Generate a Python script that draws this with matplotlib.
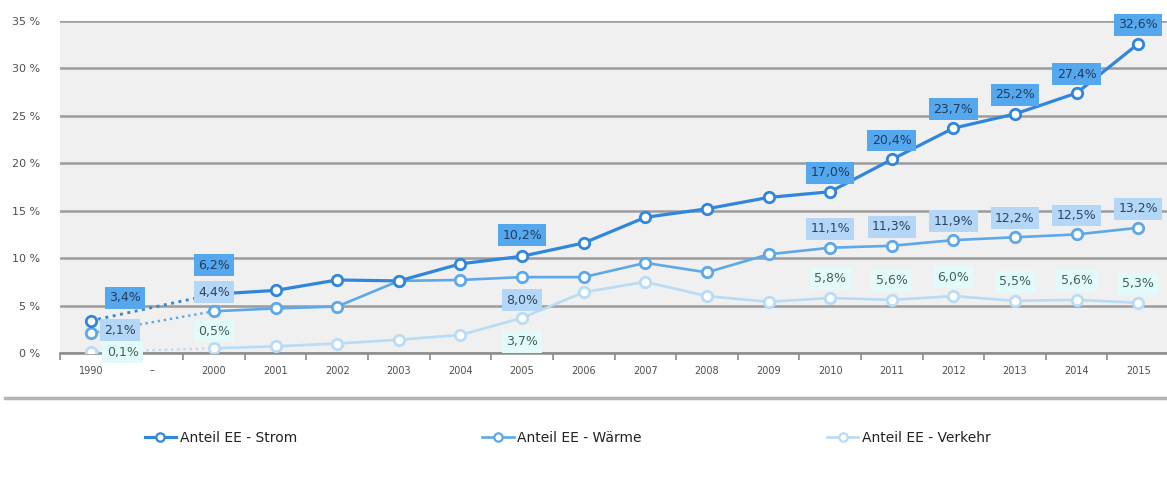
import numpy as np
import matplotlib.pyplot as plt
from matplotlib.lines import Line2D

# Anteil erneuerbarer Energien am Endenergieverbrauch, in %
years = ['1990', '–', '2000', '2001', '2002', '2003', '2004', '2005', '2006',
         '2007', '2008', '2009', '2010', '2011', '2012', '2013', '2014', '2015']
strom = [3.4, np.nan, 6.2, 6.6, 7.7, 7.6, 9.4, 10.2, 11.6,
         14.3, 15.2, 16.4, 17.0, 20.4, 23.7, 25.2, 27.4, 32.6]
waerme = [2.1, np.nan, 4.4, 4.7, 4.9, 7.6, 7.7, 8.0, 8.0,
          9.5, 8.5, 10.4, 11.1, 11.3, 11.9, 12.2, 12.5, 13.2]
verkehr = [0.1, np.nan, 0.5, 0.7, 1.0, 1.4, 1.9, 3.7, 6.4,
           7.5, 6.0, 5.4, 5.8, 5.6, 6.0, 5.5, 5.6, 5.3]
series_names = ['Anteil EE - Strom', 'Anteil EE - Wärme', 'Anteil EE - Verkehr']

# which points get a value box
strom_labelled = [0, 2, 7, 12, 13, 14, 15, 16, 17]
waerme_labelled = [0, 2, 7, 12, 13, 14, 15, 16, 17]
verkehr_labelled = [0, 2, 7, 12, 13, 14, 15, 16, 17]

# styling
line_cols = ['#2f86dc', '#5ca8e8', '#b8dbf6']
box_cols = ['#55a8ee', '#b5d7f7', '#e2fafa']
txt_cols = ['#243c5c', '#2c4462', '#3d6454']
widths = [2.3, 1.9, 1.9]
# label offsets in pixels (dx, dy) for special points, default is straight above
special_off = [
    {0: (34, 23), 2: (0, 29), 7: (0, 21)},
    {0: (29, 3), 2: (0, 19), 7: (0, -23)},
    {0: (32, 0), 2: (0, 17), 7: (0, -24)},
]
default_dy = 19

fig = plt.figure(figsize=(11.67, 4.82), dpi=100)
ax = fig.add_axes([60 / 1167, 129 / 482, 1109 / 1167, 332 / 482])
ax.set_facecolor('#f0f0f0')

x = np.arange(len(years))
all_series = [strom, waerme, verkehr]
all_labelled = [strom_labelled, waerme_labelled, verkehr_labelled]

handles = []
for k, vals in enumerate(all_series):
    vals = np.array(vals, dtype=float)
    col = line_cols[k]
    z = 5 - k
    # dotted bridge from 1990 over the gap to 2000
    ax.plot([x[0], x[2]], [vals[0], vals[2]], color=col, lw=widths[k] * 0.9,
            ls=(0, (1, 1.6)), zorder=z)
    ax.plot(x[2:], vals[2:], color=col, lw=widths[k], marker='o', ms=7.5,
            mfc='white', mec=col, mew=2, zorder=z)
    ax.plot(x[0], vals[0], ls='none', marker='o', ms=7.5,
            mfc='white', mec=col, mew=2, zorder=z)
    handles.append(Line2D([], [], color=col, lw=widths[k], marker='o', ms=6,
                          mfc='white', mec=col, mew=1.6))

    for i in all_labelled[k]:
        dx, dy = special_off[k].get(i, (0, default_dy))
        txt = f'{vals[i]:.1f}%'.replace('.', ',')
        ax.annotate(txt, (x[i], vals[i]), xytext=(dx, dy),
                    textcoords='offset pixels', ha='center', va='center',
                    fontsize=9, color=txt_cols[k], zorder=10 + k,
                    annotation_clip=False,
                    bbox=dict(boxstyle='square,pad=0.35', fc=box_cols[k],
                              ec='none'))

ax.set_xlim(-0.5, 17.5)
ax.set_ylim(0, 35)
ax.set_yticks(np.arange(0, 36, 5))
ax.set_yticklabels([f'{v} %' for v in range(0, 36, 5)])
ax.set_xticks(x)
ax.set_xticklabels(years)
ax.set_xticks(np.arange(-0.5, 17.6, 1), minor=True)

ax.yaxis.grid(True, color='#9c9c9c', lw=1.8)
ax.set_axisbelow(True)
for s in ['top', 'right', 'left']:
    ax.spines[s].set_visible(False)
ax.spines['bottom'].set_color('#8c8c8c')
ax.spines['bottom'].set_linewidth(1.8)

ax.tick_params(axis='y', length=0, pad=14, labelsize=8, labelcolor='#4f4f4f')
ax.tick_params(axis='x', which='major', length=0, pad=9, labelsize=7,
               labelcolor='#4f4f4f')
ax.tick_params(axis='x', which='minor', length=5, width=1.2, color='#8c8c8c')

# separator line above the legend
fig.add_artist(Line2D([5 / 1167, 1.0], [84 / 482, 84 / 482],
                      color='#b4b4b4', lw=2.5))

fig.legend(handles, series_names, loc='center left',
           bbox_to_anchor=(132 / 1167, 44 / 482), ncol=3, frameon=False,
           fontsize=10, handlelength=2.3, handletextpad=0.25,
           columnspacing=13.3, labelcolor='#222222')

fig.savefig('out.png', dpi=100, facecolor='white')
